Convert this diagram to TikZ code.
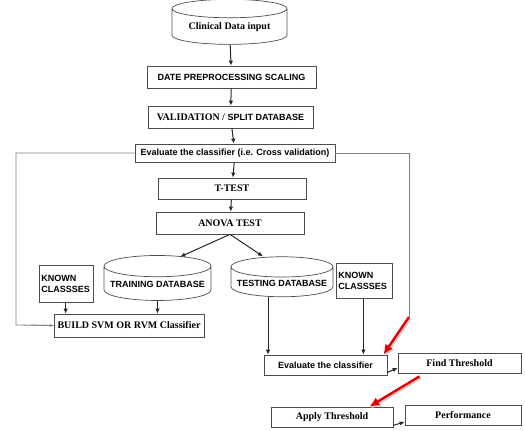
\documentclass[tikz,border=0pt]{standalone}
\usepackage{fontspec}
\setmainfont{Liberation Serif}
\setsansfont{Liberation Sans}
\usetikzlibrary{shapes.geometric,arrows.meta}
\tikzset{
  procbox/.style={draw=black!70, line width=0.7pt, inner sep=1pt},
  dbase/.style={draw=black!70, line width=0.7pt, cylinder, shape border rotate=90, aspect=0.22, inner sep=1pt},
  sanstxt/.style={font=\sffamily\bfseries\fontsize{9}{10.5}\selectfont},
  seriftxt/.style={font=\rmfamily\bfseries\fontsize{10}{11}\selectfont},
  flow/.style={-{Latex[length=5pt,width=4.5pt]}, line width=1pt, black!85},
  loopline/.style={black!50, line width=0.8pt},
  redarrow/.style={-{Latex[length=10pt,width=9pt]}, red!90!black, line width=2.4pt},
  shadowline/.style={-{Latex[length=10pt,width=9pt]}, black!20, line width=2.4pt},
}
\begin{document}
\begin{tikzpicture}[x=1pt,y=-1pt]
    \useasboundingbox (0,0) rectangle (525,431);

    % Main column
    \node[dbase, seriftxt, minimum width=115pt, minimum height=45pt] (clin) at (229.5,27.5) {Clinical Data input};
    \node[procbox, sanstxt, minimum width=169pt, minimum height=22pt] (prep) at (231.5,77) {DATE PREPROCESSING SCALING};
    \node[procbox, sanstxt, minimum width=165pt, minimum height=22pt] (valid) at (230.5,117)
        {{\rmfamily\fontsize{10}{11}\selectfont VALIDATION /} SPLIT DATABASE};
    \node[procbox, sanstxt, minimum width=200pt, minimum height=18pt] (evalcv) at (235,153) {Evaluate the classifier (i.e. Cross validation)};
    \node[procbox, seriftxt, minimum width=148pt, minimum height=21pt] (ttest) at (232,188.5) {T-TEST};
    \node[procbox, seriftxt, minimum width=148pt, minimum height=22pt] (anova) at (230,223) {ANOVA TEST};

    % Training side
    \node[procbox, sanstxt, align=left, anchor=north west, minimum width=54pt, minimum height=37pt, text width=50pt] (known1) at (39,265) {KNOWN\\CLASSSES};
    \node[dbase, sanstxt, minimum width=107pt, minimum height=45pt] (train) at (157.5,284.5) {TRAINING DATABASE};
    \node[procbox, seriftxt, minimum width=150pt, minimum height=23pt] (build) at (129,325.5) {BUILD SVM OR RVM Classifier};

    % Testing side
    \node[dbase, sanstxt, minimum width=102pt, minimum height=40pt] (test) at (282,283) {TESTING DATABASE};
    \node[procbox, sanstxt, align=left, anchor=north west, minimum width=56pt, minimum height=35pt, text width=52pt] (known2) at (336,263) {KNOWN\\CLASSSES};
    \node[procbox, sanstxt, minimum width=123pt, minimum height=20pt] (evalc) at (325.5,365) {Evaluate the classifier};
    \node[procbox, seriftxt, minimum width=123pt, minimum height=20pt] (findt) at (459.5,363) {Find Threshold};
    \node[procbox, seriftxt, minimum width=122pt, minimum height=20pt] (applyt) at (332,417) {Apply Threshold};
    \node[procbox, seriftxt, minimum width=116pt, minimum height=20pt] (perf) at (463,415) {Performance};

    % Connections
    \draw[flow] (clin) -- (prep);
    \draw[flow] (prep) -- (valid);
    \draw[flow] (valid) -- (evalcv);
    \draw[flow] (evalcv) -- (ttest);
    \draw[flow] (ttest) -- (anova);
    \draw[flow] (anova.south) -- ([xshift=-5pt]train.north east);
    \draw[flow] (anova.south) -- ([xshift=-19pt]test.north);
    \draw[flow] (known1.south -| build.north west) ++(12pt,0) coordinate (k1) -- (k1 |- build.north);
    \draw[flow] (train.south) -- (train.south |- build.north);
    \draw[flow] ([xshift=-14pt]test.south) -- ([xshift=-14pt]test.south |- evalc.north);
    \draw[flow] (known2.south -| evalc.north east) ++(-24pt,0) coordinate (k2) -- (k2 |- evalc.north);
    \draw[flow] ([yshift=3pt]evalc.south east) -- ([yshift=-5pt]findt.west);
    \draw[flow] ([yshift=2pt]applyt.south east) -- ([yshift=-7pt]perf.west);

    % Cross validation loops
    \draw[loopline] (evalcv.west) -- (16,153) -- (16,325) -- (build.west);
    \draw[loopline, -{Latex[length=4pt,width=3pt]}] (30,325) -- (build.west);
    \draw[loopline] (evalcv.east) -- (409,153) -- (409,317) coordinate (rloop);

    % Red pointers
    \coordinate (rstart) at ([xshift=-40pt,yshift=-3pt]findt.south);
    \draw[shadowline] ([shift={(1.5pt,-1.5pt)}]rloop) -- ([shift={(-2.5pt,-1.5pt)}]evalc.north east);
    \draw[shadowline] ([shift={(1.5pt,-1.5pt)}]rstart) -- ([shift={(-22.5pt,-1.5pt)}]applyt.north east);
    \draw[redarrow] (rloop) -- ([xshift=-4pt]evalc.north east);
    \draw[redarrow] (rstart) -- ([xshift=-24pt]applyt.north east);
\end{tikzpicture}
\end{document}
